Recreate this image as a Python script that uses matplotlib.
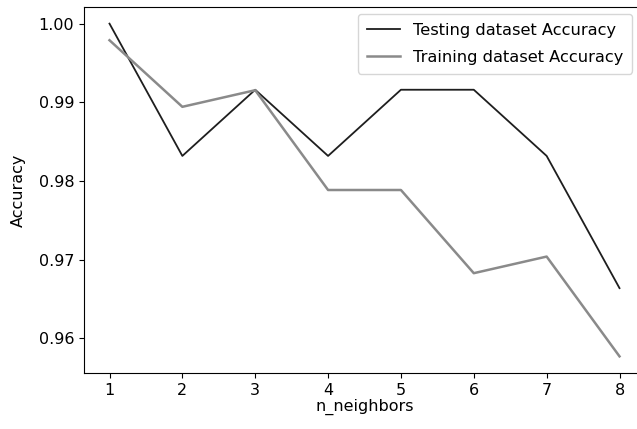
import matplotlib
matplotlib.use("Agg")
import matplotlib.pyplot as plt

n_neighbors = [1, 2, 3, 4, 5, 6, 7, 8]
test_accuracy = [1.0, 0.98319, 0.99160, 0.98319, 0.99160, 0.99160, 0.98319, 0.96639]
train_accuracy = [0.99789, 0.98943, 0.99154, 0.97886, 0.97886, 0.96829, 0.97040, 0.95772]

plt.rcParams["font.size"] = 11.5

fig = plt.figure(figsize=(6.37, 4.29), dpi=100)
ax = fig.add_axes([84 / 637, 56 / 429, 561 / 637, 366 / 429])

ax.plot(n_neighbors, test_accuracy, color="#1e1e1e", lw=1.3, label="Testing dataset Accuracy")
ax.plot(n_neighbors, train_accuracy, color="#8a8a8a", lw=1.8, label="Training dataset Accuracy")

ax.set_xticks(n_neighbors)
ax.set_yticks([0.96, 0.97, 0.98, 0.99, 1.00])
ax.set_yticklabels(["0.96", "0.97", "0.98", "0.99", "1.00"])
ax.tick_params(labelsize=11.5)
ax.set_xlabel("n_neighbors", fontsize=11.5, labelpad=1)
ax.set_ylabel("Accuracy", fontsize=11.5, labelpad=9)

ax.legend(loc="upper right", bbox_to_anchor=(1.0 + 3 / 637, 1 - 6 / 429),
          bbox_transform=fig.transFigure, borderaxespad=0.5, fontsize=11.7,
          labelspacing=0.72, borderpad=0.55)

fig.savefig("out.png", dpi=100)
